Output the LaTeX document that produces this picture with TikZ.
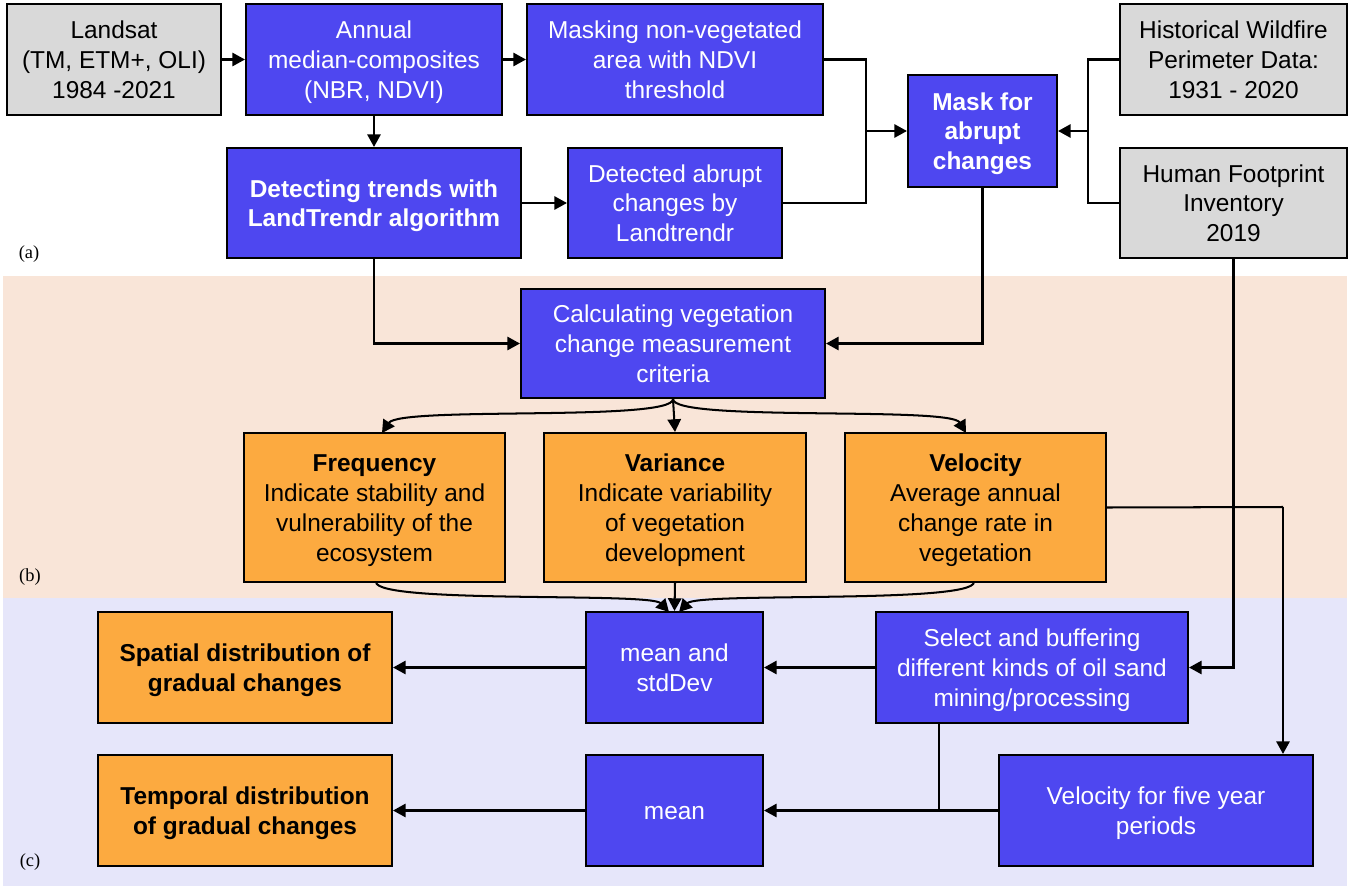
\documentclass[tikz,border=0pt]{standalone}
\usepackage{fontspec}
\setmainfont{Liberation Sans}
\newfontfamily\labserif{Liberation Serif}
\usetikzlibrary{arrows.meta}
\definecolor{bluebox}{RGB}{78,71,240}
\definecolor{orangebox}{RGB}{252,170,64}
\definecolor{graybox}{RGB}{217,217,217}
\definecolor{peachbg}{RGB}{249,229,216}
\definecolor{lavbg}{RGB}{230,230,250}
\newcommand{\ml}[1]{\raisebox{0pt}[\dimexpr\height+3.4pt\relax][\depth]{\begin{tabular}{@{}c@{}}#1\end{tabular}}}
\begin{document}
\begin{tikzpicture}[x=0.02cm,y=-0.02cm,
  base/.style={draw=black, line width=1.2pt, align=center, inner sep=0pt,
    font=\fontsize{13.9}{17}\selectfont},
  bluenode/.style={base, fill=bluebox, text=white},
  graynode/.style={base, fill=graybox, text=black},
  orangenode/.style={base, fill=orangebox, text=black},
  conn/.style={line width=1.15pt, draw=black},
  arr/.style={conn, -{Triangle[length=7.2pt,width=7.6pt]}},
  sublabel/.style={font=\labserif\fontsize{10.5}{12}\selectfont, inner sep=0pt}
]
\useasboundingbox (0,0) rectangle (1350,886);
\fill[white] (0,0) rectangle (1350,886);
\fill[peachbg] (3,276) rectangle (1347,598);
\fill[lavbg] (3,598) rectangle (1347,886);

% (a)
\node[graynode, minimum width=214*0.02cm, minimum height=111*0.02cm] (land) at (114,59.5) {\ml{Landsat\\(TM, ETM+, OLI)\\1984 -2021}};
\node[bluenode, minimum width=256*0.02cm, minimum height=111*0.02cm] (annual) at (374,59.5) {\ml{Annual\\median-composites\\(NBR, NDVI)}};
\node[bluenode, minimum width=296*0.02cm, minimum height=111*0.02cm] (masking) at (675,59.5) {\ml{Masking non-vegetated\\area with NDVI\\threshold}};
\node[bluenode, minimum width=294*0.02cm, minimum height=110*0.02cm, font=\fontsize{13.9}{17}\selectfont\bfseries] (detect) at (374,203) {\ml{Detecting trends with\\LandTrendr algorithm}};
\node[bluenode, minimum width=214*0.02cm, minimum height=110*0.02cm] (detab) at (675,203) {\ml{Detected abrupt\\changes by\\Landtrendr}};
\node[bluenode, minimum width=149*0.02cm, minimum height=112*0.02cm, font=\fontsize{13.9}{17}\selectfont\bfseries] (maskab) at (982.5,131) {\ml{Mask for\\abrupt\\changes}};
\node[graynode, minimum width=227*0.02cm, minimum height=111*0.02cm] (hist) at (1233.5,59.5) {\ml{Historical Wildfire\\Perimeter Data:\\1931 - 2020}};
\node[graynode, minimum width=227*0.02cm, minimum height=110*0.02cm] (human) at (1233.5,203) {\ml{Human Footprint\\Inventory\\2019}};

% (b)
\node[bluenode, minimum width=304*0.02cm, minimum height=109*0.02cm] (calc) at (673,343.5) {\ml{Calculating vegetation\\change measurement\\criteria}};
\node[orangenode, minimum width=261*0.02cm, minimum height=149*0.02cm] (freq) at (374.5,507.5) {\ml{\textbf{Frequency}\\Indicate stability and\\vulnerability of the\\ecosystem}};
\node[orangenode, minimum width=262*0.02cm, minimum height=149*0.02cm] (var) at (675,507.5) {\ml{\textbf{Variance}\\Indicate variability\\of vegetation\\development}};
\node[orangenode, minimum width=261*0.02cm, minimum height=149*0.02cm] (velo) at (975.5,507.5) {\ml{\textbf{Velocity}\\Average annual\\change rate in\\vegetation}};

% (c)
\node[bluenode, minimum width=177*0.02cm, minimum height=111*0.02cm] (meansd) at (674.5,667.5) {\ml{mean and\\stdDev}};
\node[bluenode, minimum width=312*0.02cm, minimum height=111*0.02cm] (select) at (1032,667.5) {\ml{Select and buffering\\different kinds of oil sand\\mining/processing}};
\node[bluenode, minimum width=177*0.02cm, minimum height=111*0.02cm] (mean) at (674.5,810.5) {\ml{mean}};
\node[bluenode, minimum width=314*0.02cm, minimum height=111*0.02cm] (vel5) at (1156,810.5) {\ml{Velocity for five year\\periods}};
\node[orangenode, minimum width=294*0.02cm, minimum height=111*0.02cm, font=\fontsize{13.9}{17}\selectfont\bfseries] (spatial) at (245,667.5) {\ml{Spatial distribution of\\gradual changes}};
\node[orangenode, minimum width=294*0.02cm, minimum height=111*0.02cm, font=\fontsize{13.9}{17}\selectfont\bfseries] (temporal) at (245,810.5) {\ml{Temporal distribution\\of gradual changes}};

% labels
\node[sublabel] (la) at (29,254) {(a)};
\node[sublabel] (lb) at (30,577) {(b)};
\node[sublabel] (lc) at (30,862) {(c)};

% coordinates
\coordinate (jL) at (866,131);
\coordinate (jR) at (1088,131);
\coordinate (vx) at (1283,507);
\coordinate (sj) at (939,810.5);
\coordinate (fin) at (382,433);
\coordinate (vin) at (966,433);
\coordinate (m1) at (669,612);
\coordinate (m2) at (679,612);
\coordinate (fout) at (376,582);
\coordinate (vout) at (974,582);

% connectors (a)
\draw[arr] (land.east) -- (annual.west);
\draw[arr] (annual.east) -- (masking.west);
\draw[arr] (annual.south) -- (detect.north);
\draw[arr] (detect.east) -- (detab.west);
\draw[conn] (masking.east) -| (jL);
\draw[conn] (detab.east) -| (jL);
\draw[arr] (jL) -- (maskab.west);
\draw[conn] (hist.west) -| (jR);
\draw[conn] (human.west) -| (jR);
\draw[arr] (jR) -- (maskab.east);

% (a) -> (b)
\draw[arr] (detect.south) |- (calc.west);
\draw[arr] (maskab.south) |- (calc.east);

% (b)
\draw[arr] (calc.south) .. controls (673,422) and (400,406) .. (fin);
\draw[arr] (calc.south) -- (var.north);
\draw[arr] (calc.south) .. controls (673,422) and (950,406) .. (vin);
\draw[arr] (fout) .. controls (376,604) and (650,592) .. (m1);
\draw[arr] (var.south) -- (meansd.north);
\draw[arr] (vout) .. controls (974,604) and (698,592) .. (m2);
\draw[conn] (velo.east) -- (vx);
\draw[arr] (vx) -- (vx |- vel5.north);

% (c)
\draw[arr] (human.south) |- (select.east);
\draw[arr] (select.west) -- (meansd.east);
\draw[arr] (meansd.west) -- (spatial.east);
\draw[conn] (sj |- select.south) -- (sj);
\draw[arr] (vel5.west) -- (mean.east);
\draw[arr] (mean.west) -- (temporal.east);
\end{tikzpicture}
\end{document}
